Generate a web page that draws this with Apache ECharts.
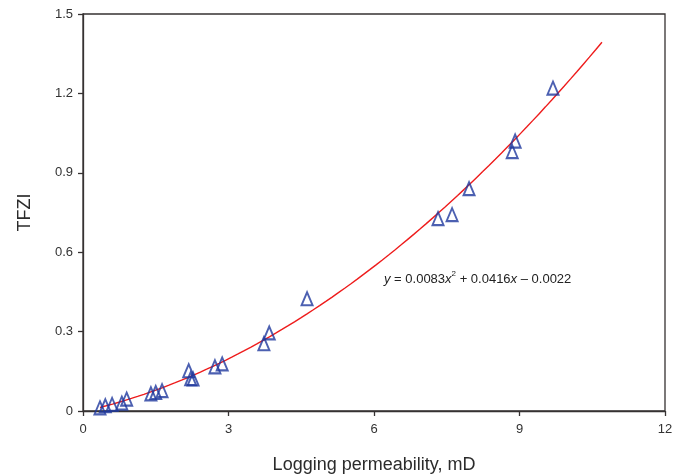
<!DOCTYPE html>
<html>
<head>
<meta charset="utf-8">
<script src="https://cdn.jsdelivr.net/npm/echarts@6/dist/echarts.min.js"></script>
<style>
html,body{margin:0;padding:0;background:#fff;}
#chart{width:690px;height:475px;}
</style>
</head>
<body>
<div id="chart"></div>
<script>
// Measured points: logging permeability (mD) and TFZI
var permX = [0.35, 0.46, 0.6, 0.8, 0.9, 1.4, 1.5, 1.63, 2.18, 2.22, 2.27, 2.72, 2.87, 3.73, 3.84, 4.62, 7.32, 7.61, 7.96, 8.85, 8.91, 9.69];
var tfziY = [0.012, 0.02, 0.025, 0.03, 0.045, 0.065, 0.07, 0.077, 0.152, 0.122, 0.121, 0.167, 0.178, 0.254, 0.295, 0.424, 0.727, 0.742, 0.84, 0.98, 1.02, 1.22];
// Fitted quadratic (coefficients as printed on the chart): a*x^2 + b*x + c
var fitCoef = [0.0083, 0.0416, -0.0022];
var fitRange = [0.35, 10.7];
var xTicks = [0, 3, 6, 9, 12];
var yTicks = [0, 0.3, 0.6, 0.9, 1.2, 1.5];

var pts = permX.map(function(x, i){ return [x, tfziY[i]]; });
var fit = [];
var steps = 80;
for (var k = 0; k <= steps; k++) {
  var x = fitRange[0] + (fitRange[1] - fitRange[0]) * k / steps;
  fit.push([x, fitCoef[0]*x*x + fitCoef[1]*x + fitCoef[2]]);
}

var axisColor = '#363232';
var font = 'Liberation Sans, Arial, sans-serif';
var chart = echarts.init(document.getElementById('chart'), null, {renderer: 'canvas'});
chart.setOption({
  animation: false,
  backgroundColor: '#fff',
  textStyle: {fontFamily: font},
  grid: {left: 83, right: 25, top: 14, bottom: 64, show: true, borderColor: axisColor, borderWidth: 1.3,
         containLabel: false, outerBoundsMode: 'none'},
  xAxis: {
    type: 'value', min: xTicks[0], max: xTicks[xTicks.length-1], interval: 3,
    name: 'Logging permeability, mD', nameLocation: 'middle', nameGap: 45,
    nameTextStyle: {fontSize: 18, color: '#2b2b2b', fontFamily: font},
    axisLine: {show: true, lineStyle: {color: axisColor, width: 1.3}},
    axisTick: {show: true, inside: false, length: 5, lineStyle: {color: axisColor, width: 1.3}},
    axisLabel: {color: '#333', fontSize: 13, margin: 12},
    splitLine: {show: false}
  },
  yAxis: {
    type: 'value', min: yTicks[0], max: yTicks[yTicks.length-1], interval: 0.3,
    name: 'TFZI', nameLocation: 'middle', nameGap: 49, nameRotate: 90,
    nameTextStyle: {fontSize: 18, color: '#2b2b2b', fontFamily: font},
    axisLine: {show: true, lineStyle: {color: axisColor, width: 1.3}},
    axisTick: {show: true, inside: false, length: 5, lineStyle: {color: axisColor, width: 1.3}},
    axisLabel: {color: '#333', fontSize: 13, margin: 10},
    splitLine: {show: false}
  },
  series: [
    {
      type: 'line', data: fit, showSymbol: false, smooth: false,
      lineStyle: {color: '#ee1c1c', width: 1.4}, z: 2, silent: true
    },
    {
      type: 'scatter', data: pts, symbol: 'triangle', symbolSize: [11, 13],
      itemStyle: {color: 'rgba(255,255,255,0)', borderColor: '#1f389e', borderWidth: 2}, z: 3
    }
  ],
  graphic: [{
    type: 'text', left: 384, top: 270, z: 10,
    style: {
      text: '{i|y}{n| = 0.0083}{i|x}{s|2}{n| + 0.0416}{i|x}{n| – 0.0022}',
      rich: {
        i: {fontStyle: 'italic', fontSize: 13, fill: '#222', fontFamily: font, lineHeight: 16, verticalAlign: 'bottom'},
        n: {fontSize: 13, fill: '#222', fontFamily: font, lineHeight: 16, verticalAlign: 'bottom'},
        s: {fontSize: 8, fill: '#222', fontFamily: font, lineHeight: 16, verticalAlign: 'top'}
      }
    }
  }]
});
</script>
</body>
</html>
